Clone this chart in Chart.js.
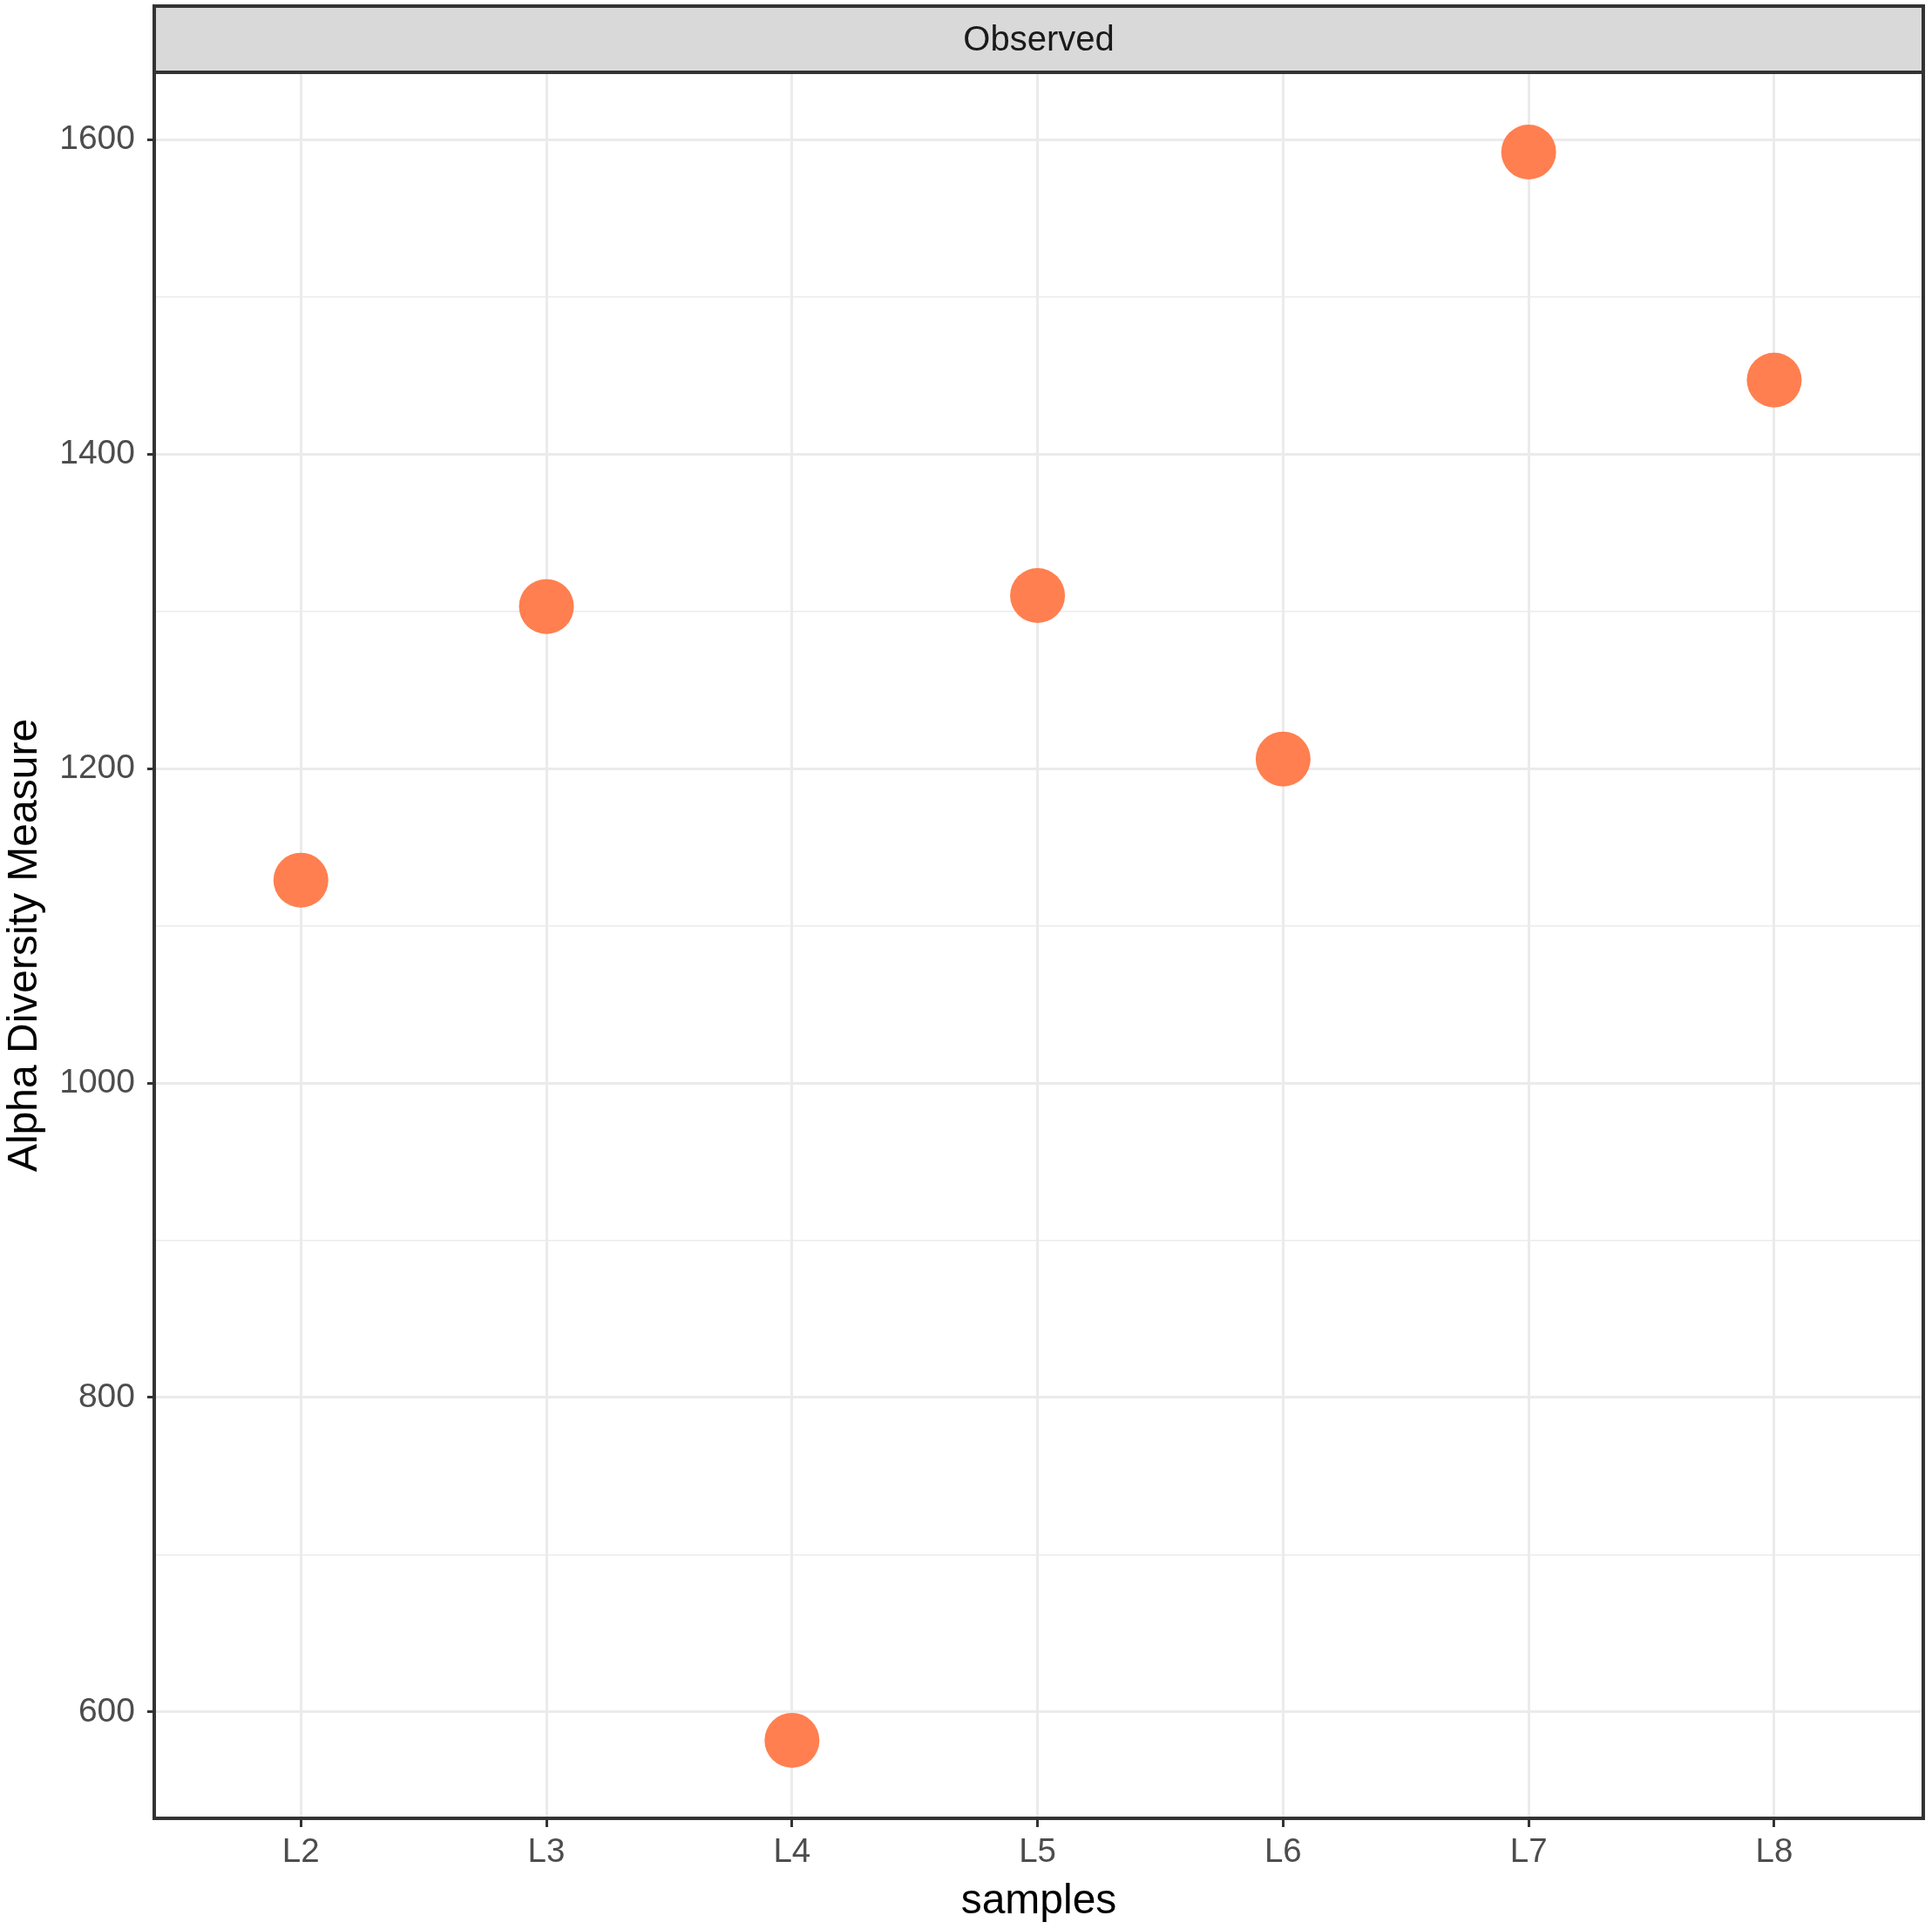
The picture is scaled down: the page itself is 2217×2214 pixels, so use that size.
<!DOCTYPE html>
<html>
<head>
<meta charset="utf-8">
<script src="https://cdn.jsdelivr.net/npm/chart.js@4"></script>
<style>
  html, body { margin: 0; padding: 0; background: #ffffff; }
  #wrap { width: 2217px; height: 2214px; }
</style>
</head>
<body>
<div id="wrap"><canvas id="chart" width="2217" height="2214"></canvas></div>
<script>
// values
const samples = ['L2', 'L3', 'L4', 'L5', 'L6', 'L7', 'L8'];
const observed = [1129, 1303, 582, 1310, 1206, 1592, 1447];
const yMajorTicks = [600, 800, 1000, 1200, 1400, 1600];
const yMinorTicks = [700, 900, 1100, 1300, 1500];
const facetLabel = 'Observed';

const FONT = "'Liberation Sans', Arial, sans-serif";
const gridColor = '#EBEBEB';
const darkLine = '#333333';

// facet strip + panel border, drawn like ggplot's theme_bw
const panelDecor = {
  id: 'panelDecor',
  afterDraw(chart) {
    const { ctx, chartArea: a } = chart;
    ctx.save();
    // strip
    ctx.fillStyle = '#D9D9D9';
    ctx.fillRect(a.left - 2, 7, a.right - a.left + 4, a.top - 9);
    ctx.lineWidth = 4;
    ctx.strokeStyle = darkLine;
    ctx.strokeRect(a.left - 2, 7, a.right - a.left + 4, a.top - 9);
    ctx.fillStyle = '#1A1A1A';
    ctx.font = '40px ' + FONT;
    ctx.textAlign = 'center';
    ctx.textBaseline = 'middle';
    ctx.fillText(facetLabel, (a.left + a.right) / 2, (7 + a.top - 2) / 2 + 2);
    // panel border
    ctx.strokeRect(a.left - 2, a.top - 2, a.right - a.left + 4, a.bottom - a.top + 4);
    ctx.restore();
  }
};

const ctx = document.getElementById('chart').getContext('2d');
const chart = new Chart(ctx, {
  type: 'scatter',
  data: {
    datasets: [{
      label: facetLabel,
      data: observed.map((v, i) => ({ x: i + 1, y: v })),
      backgroundColor: '#FF7F50',
      borderWidth: 0,
      pointRadius: 31.5,
      pointHoverRadius: 31.5
    }]
  },
  options: {
    responsive: false,
    animation: false,
    events: [],
    layout: { autoPadding: false, padding: { top: 85, right: 12, left: 0, bottom: 0 } },
    plugins: {
      legend: { display: false },
      tooltip: { enabled: false }
    },
    scales: {
      x: {
        type: 'linear',
        min: 0.41,
        max: 7.6,
        afterBuildTicks(scale) {
          scale.ticks = samples.map((s, i) => ({ value: i + 1 }));
        },
        afterFit(scale) { scale.height = 129; },
        ticks: {
          callback: (v) => samples[v - 1],
          color: '#4D4D4D',
          font: { family: FONT, size: 38.5 },
          padding: 6,
          maxRotation: 0,
          autoSkip: false
        },
        grid: {
          color: gridColor,
          lineWidth: 3,
          tickColor: darkLine,
          tickLength: 12,
          tickWidth: 3
        },
        border: { display: false },
        title: {
          display: true,
          text: 'samples',
          color: '#000000',
          font: { family: FONT, size: 48, lineHeight: 1.2 },
          padding: { top: 0, bottom: 2 }
        }
      },
      y: {
        min: 533.5,
        max: 1641.6,
        afterBuildTicks(scale) {
          scale.ticks = yMajorTicks.concat(yMinorTicks)
            .sort((a, b) => a - b)
            .map(v => ({ value: v }));
        },
        afterFit(scale) { scale.width = 179; },
        ticks: {
          callback: (v) => yMajorTicks.includes(v) ? String(v) : '',
          color: '#4D4D4D',
          font: { family: FONT, size: 39 },
          padding: 14,
          autoSkip: false
        },
        grid: {
          color: gridColor,
          lineWidth: (c) => yMajorTicks.includes(c.tick && c.tick.value) ? 3 : 1.5,
          tickColor: (c) => yMajorTicks.includes(c.tick && c.tick.value) ? darkLine : 'rgba(0,0,0,0)',
          tickLength: 10,
          tickWidth: 3
        },
        border: { display: false },
        title: {
          display: true,
          text: 'Alpha Diversity Measure',
          color: '#000000',
          font: { family: FONT, size: 48, lineHeight: 1.2 },
          padding: { top: 0, bottom: 0 }
        }
      }
    }
  },
  plugins: [panelDecor]
});
</script>
</body>
</html>
